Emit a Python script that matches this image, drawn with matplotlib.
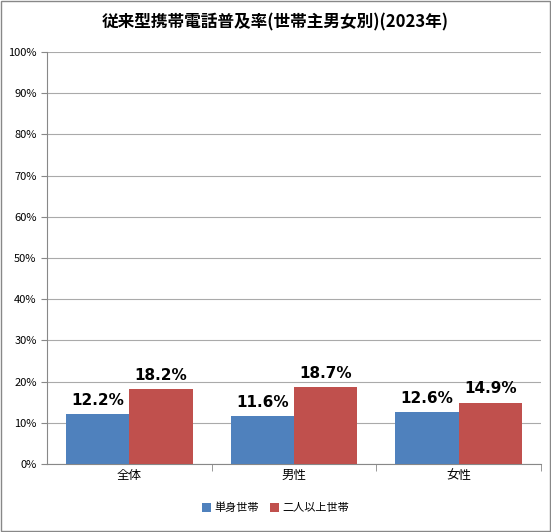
import matplotlib.pyplot as plt
import numpy as np

plt.rcParams['font.family'] = ['Noto Sans CJK JP', 'DejaVu Sans']

categories = ['全体', '男性', '女性']
single = [12.2, 11.6, 12.6]
multi = [18.2, 18.7, 14.9]
series_names = ['単身世帯', '二人以上世帯']
yticks = list(range(0, 101, 10))

fig = plt.figure(figsize=(5.51, 5.32), dpi=100)
ax = fig.add_axes([47 / 551, 68 / 532, 494 / 551, 412 / 532])

x = np.arange(len(categories))
w = 0.385
b1 = ax.bar(x - w / 2, single, w, color='#4F81BD', label=series_names[0], zorder=3)
b2 = ax.bar(x + w / 2, multi, w, color='#C0504D', label=series_names[1], zorder=3)

for bars, vals in ((b1, single), (b2, multi)):
    for r, v in zip(bars, vals):
        ax.text(r.get_x() + r.get_width() / 2, v + 1.5, f'{v:.1f}%',
                ha='center', va='bottom', fontsize=11, fontweight='bold',
                family='DejaVu Sans')

ax.set_xlim(-0.5, 2.5)
ax.set_ylim(0, 100)
ax.set_yticks(yticks)
ax.set_yticklabels([f'{t}%' for t in yticks], fontsize=8)
ax.set_xticks(x)
ax.set_xticklabels(categories, fontsize=9)
ax.set_xticks([0.5, 1.5, 2.5], minor=True)
ax.tick_params(axis='x', which='major', length=0)
ax.tick_params(axis='x', which='minor', length=5, color='#888888')
ax.tick_params(axis='y', length=4, color='#888888')
ax.grid(axis='y', color='#aaaaaa', linewidth=0.8, zorder=0)
for s in ('top', 'right'):
    ax.spines[s].set_visible(False)
for s in ('left', 'bottom'):
    ax.spines[s].set_color('#888888')

fig.text(0.5, 1 - 22 / 532, '従来型携帯電話普及率(世帯主男女別)(2023年)',
         ha='center', va='center', fontsize=12, fontweight='bold')
fig.legend(loc='center', bbox_to_anchor=(0.5, 1 - 508 / 532), ncol=2,
           frameon=False, fontsize=8, handlelength=0.8, handleheight=0.8,
           columnspacing=1.0, handletextpad=0.3)
fig.patches.append(plt.Rectangle((0.002, 0.002), 0.996, 0.996, transform=fig.transFigure,
                                 fill=False, edgecolor='#888888', linewidth=1))
fig.savefig('out.png', dpi=100)
